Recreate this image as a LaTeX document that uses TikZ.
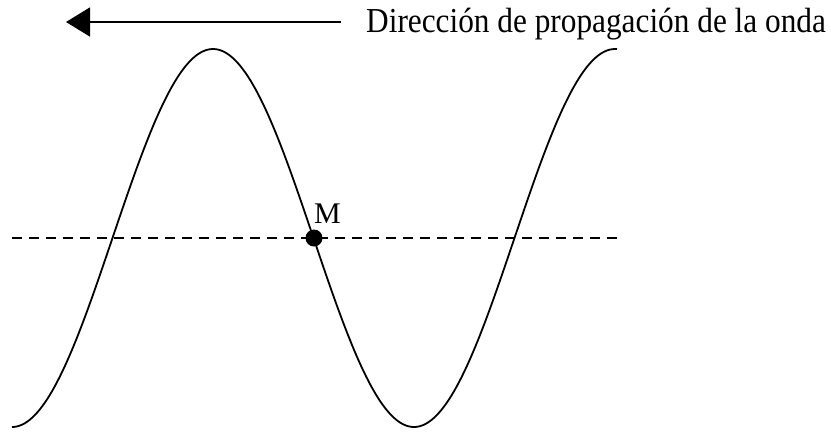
\documentclass[tikz,border=0pt]{standalone}
\usepackage{fontspec}
\usepackage{graphicx}
\setmainfont{Liberation Serif}
\usetikzlibrary{arrows.meta}
\begin{document}
\begin{tikzpicture}[x=1pt,y=-1pt,
  wave/.style={line width=1.8pt},
  axisline/.style={line width=1.6pt, dash pattern=on 10pt off 7pt},
  dirarrow/.style={line width=1.7pt, -{Triangle[length=24pt,width=29pt]}},
  dot/.style={circle, fill=black, inner sep=0pt, minimum size=17pt}]
\useasboundingbox (0,0) rectangle (831,432);
% propagation direction
\coordinate (arrS) at (341,22);
\coordinate (arrE) at (66,22);
\draw[dirarrow] (arrS) -- (arrE);
\node[anchor=base west, inner sep=0pt, font=\fontsize{31.3}{36}\selectfont] (lbl) at (366,32) {\scalebox{1}[1.12]{Dirección de propagación de la onda}};
% equilibrium line
\coordinate (eqL) at (12,238);
\coordinate (eqR) at (618,238);
\draw[axisline] (eqL) -- (eqR);
% wave
\draw[wave] plot[domain=12:617, samples=240, smooth] (\x, {238+189*cos(((\x-12)/402)*360)});
% point M
\node[dot] (M) at (314,238) {};
\node[anchor=base west, inner sep=0pt, font=\fontsize{30}{34}\selectfont] (Mlbl) at (314,223) {M};
\end{tikzpicture}
\end{document}
